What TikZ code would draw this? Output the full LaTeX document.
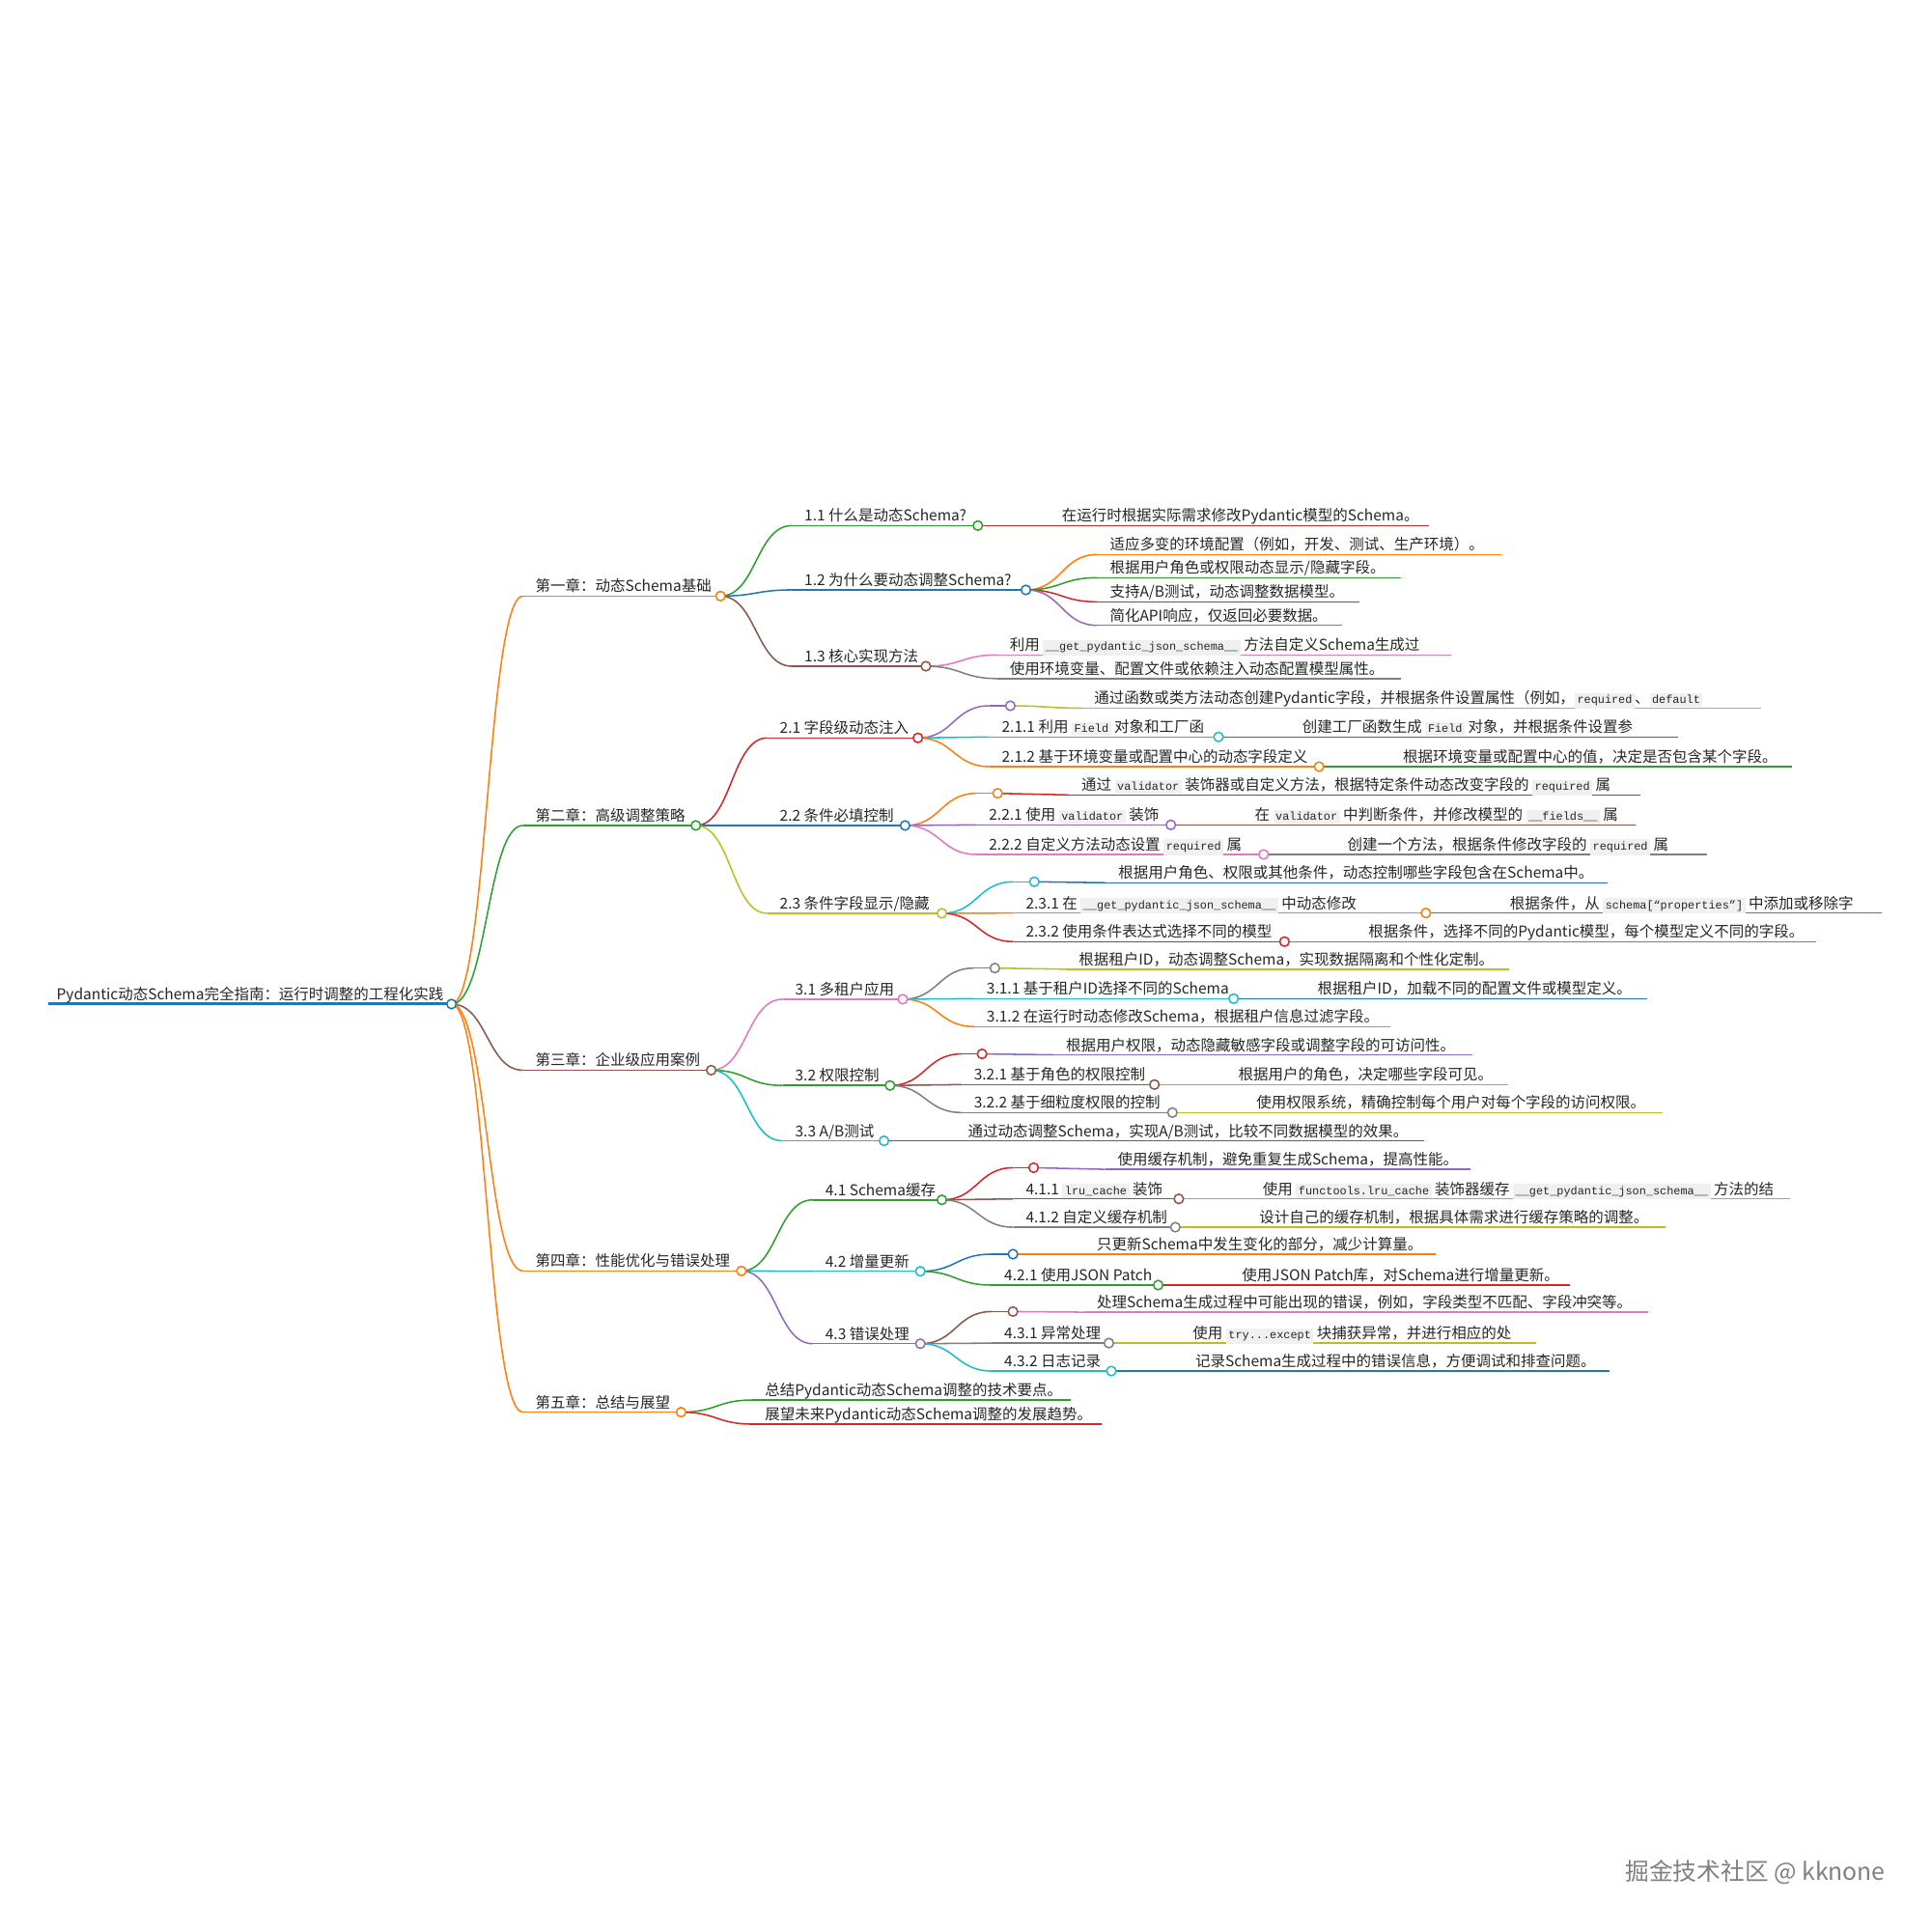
\documentclass[tikz,border=0pt]{standalone}
\usepackage{fontspec}
\setmainfont{Noto Sans CJK SC}
\newfontfamily\codefont{Liberation Mono}
\usetikzlibrary{calc}
\definecolor{cBlue}{HTML}{1F77B4}
\definecolor{cOrange}{HTML}{FF7F0E}
\definecolor{cGreen}{HTML}{2CA02C}
\definecolor{cRed}{HTML}{D62728}
\definecolor{cPurple}{HTML}{9467BD}
\definecolor{cBrown}{HTML}{8C564B}
\definecolor{cPink}{HTML}{E377C2}
\definecolor{cGray}{HTML}{7F7F7F}
\definecolor{cOlive}{HTML}{BCBD22}
\definecolor{cCyan}{HTML}{17BECF}
\definecolor{codebg}{HTML}{F0F0F0}
\newcommand\cd[1]{{\fboxsep=2pt\colorbox{codebg}{\fontsize{9.3}{10}\codefont #1}}}
\tikzset{
  ul/.style={line width=1.2pt},
  lbl/.style={anchor=base west, inner sep=0pt, text=black!85, font=\fontsize{12.15}{14}\selectfont},
  dotc/.style={circle, fill=white, inner sep=0pt, minimum size=7.6pt, line width=1.2pt}
}
% name, colour, y, parent circle x, end x, text
\newcommand\mn[6]{%
  \coordinate (#1-s) at ({#4+58},#3);
  \coordinate (#1-e) at (#5,#3);
  \draw[ul,#2] (#1-s) -- (#1-e);
  \node[lbl] (#1) at ({#4+68},{#3-3.5}) {#6};
}
\newcommand\lk[3]{\draw[ul,#1] let \p1=(#2-e), \p2=(#3-s) in (\p1) .. controls ({(\x1+\x2)/2},\y1) and ({(\x1+\x2)/2},\y2) .. (\p2);}
\newcommand\dt[2]{\node[dotc,draw=#2] (#1-c) at (#1-e) {};}
\begin{document}
\begin{tikzpicture}[x=1pt,y=-1pt]
\fill[white] (0,0) rectangle (1568,1568);
\useasboundingbox (0,0) rectangle (1568,1568);
% root
\coordinate (R-s) at (39,815.3);
\coordinate (R-e) at (366.6,815.3);
\draw[line width=2.4pt,cBlue] (R-s) -- (R-e);
\node[lbl] (R) at (45.8,811.8) {Pydantic动态Schema完全指南：运行时调整的工程化实践};
% chapters
\mn{C1}{cOrange}{484}{366.6}{585}{第一章：动态Schema基础}
\mn{C2}{cGreen}{670.3}{366.6}{565}{第二章：高级调整策略}
\mn{C3}{cBrown}{869}{366.6}{577.5}{第三章：企业级应用案例}
\mn{C4}{cOrange}{1032}{366.6}{602}{第四章：性能优化与错误处理}
\mn{C5}{cOrange}{1146.7}{366.6}{553}{第五章：总结与展望}
% chapter 1
\mn{N11}{cGreen}{426.8}{585}{794}{1.1 什么是动态Schema?}
\mn{L11}{cRed}{426.8}{794}{1160}{在运行时根据实际需求修改Pydantic模型的Schema。}
\mn{N12}{cBlue}{479}{585}{833}{1.2 为什么要动态调整Schema?}
\mn{L12a}{cOrange}{450.3}{833}{1219}{适应多变的环境配置（例如，开发、测试、生产环境）。}
\mn{L12b}{cGreen}{469.1}{833}{1137.6}{根据用户角色或权限动态显示/隐藏字段。}
\mn{L12c}{cRed}{488.7}{833}{1103.5}{支持A/B测试，动态调整数据模型。}
\mn{L12d}{cPurple}{507.8}{833}{1089.5}{简化API响应，仅返回必要数据。}
\mn{N13}{cBrown}{541}{585}{751.8}{1.3 核心实现方法}
\mn{L13a}{cPink}{531.8}{751.8}{1178}{利用 \cd{\_\_get\_pydantic\_json\_schema\_\_} 方法自定义Schema生成过}
\mn{L13b}{cGray}{551}{751.8}{1137.6}{使用环境变量、配置文件或依赖注入动态配置模型属性。}
% chapter 2
\mn{N21}{cRed}{599.2}{565}{745.3}{2.1 字段级动态注入}
\mn{N21a}{cPurple}{573.1}{745.3}{820.4}{}
\mn{L21a}{cOlive}{575}{820.4}{1429.8}{通过函数或类方法动态创建Pydantic字段，并根据条件设置属性（例如，\cd{required}、\cd{default}}
\mn{N211}{cCyan}{598.4}{745.3}{989.4}{2.1.1 利用 \cd{Field} 对象和工厂函}
\mn{L211}{cBlue}{598.4}{989.4}{1362.5}{创建工厂函数生成 \cd{Field} 对象，并根据条件设置参}
\mn{N212}{cOrange}{622.5}{745.3}{1071}{2.1.2 基于环境变量或配置中心的动态字段定义}
\mn{L212}{cGreen}{622.5}{1071}{1455.3}{根据环境变量或配置中心的值，决定是否包含某个字段。}
\mn{N22}{cBlue}{670.3}{565}{734.9}{2.2 条件必填控制}
\mn{N22a}{cOrange}{644.2}{734.9}{810}{}
\mn{L22a}{cRed}{645.5}{810}{1331.8}{通过 \cd{validator} 装饰器或自定义方法，根据特定条件动态改变字段的 \cd{required} 属}
\mn{N221}{cPurple}{669.8}{734.9}{950.7}{2.2.1 使用 \cd{validator} 装饰}
\mn{L221}{cBrown}{669.8}{950.7}{1328.4}{在 \cd{validator} 中判断条件，并修改模型的 \cd{\_\_fields\_\_} 属}
\mn{N222}{cPink}{693.8}{734.9}{1026}{2.2.2 自定义方法动态设置 \cd{required} 属}
\mn{L222}{cGray}{693.8}{1026}{1385.9}{创建一个方法，根据条件修改字段的 \cd{required} 属}
\mn{N23}{cOlive}{741.6}{565}{764.8}{2.3 条件字段显示/隐藏}
\mn{N23a}{cCyan}{716}{764.8}{839.9}{}
\mn{L23a}{cBlue}{716.8}{839.9}{1305.3}{根据用户角色、权限或其他条件，动态控制哪些字段包含在Schema中。}
\mn{N231}{cOrange}{741.4}{764.8}{1157.8}{2.3.1 在 \cd{\_\_get\_pydantic\_json\_schema\_\_} 中动态修改}
\mn{L231}{cGreen}{741.4}{1157.8}{1528}{根据条件，从 \cd{schema[“properties”]} 中添加或移除字}
\mn{N232}{cRed}{764.6}{764.8}{1043}{2.3.2 使用条件表达式选择不同的模型}
\mn{L232}{cPurple}{764.6}{1043}{1474.8}{根据条件，选择不同的Pydantic模型，每个模型定义不同的字段。}
% chapter 3
\mn{N31}{cPink}{811.4}{577.5}{733}{3.1 多租户应用}
\mn{N31a}{cGray}{786.1}{733}{807.8}{}
\mn{L31a}{cOlive}{787}{807.8}{1225}{根据租户ID，动态调整Schema，实现数据隔离和个性化定制。}
\mn{N311}{cCyan}{810.9}{733}{1001.7}{3.1.1 基于租户ID选择不同的Schema}
\mn{L311}{cBlue}{810.9}{1001.7}{1337.8}{根据租户ID，加载不同的配置文件或模型定义。}
\mn{L312}{cOrange}{833.6}{733}{1129}{3.1.2 在运行时动态修改Schema，根据租户信息过滤字段。}
\mn{N32}{cGreen}{881.4}{577.5}{722.7}{3.2 权限控制}
\mn{N32a}{cRed}{855.8}{722.7}{797.4}{}
\mn{L32a}{cPurple}{856.5}{797.4}{1195.7}{根据用户权限，动态隐藏敏感字段或调整字段的可访问性。}
\mn{N321}{cBrown}{880.7}{722.7}{937.4}{3.2.1 基于角色的权限控制}
\mn{L321}{cPink}{880.7}{937.4}{1224.3}{根据用户的角色，决定哪些字段可见。}
\mn{N322}{cGray}{903.4}{722.7}{952}{3.2.2 基于细粒度权限的控制}
\mn{L322}{cOlive}{903.4}{952}{1350}{使用权限系统，精确控制每个用户对每个字段的访问权限。}
\mn{N33}{cCyan}{926.4}{577.5}{717.8}{3.3 A/B测试}
\mn{L33}{cBlue}{926.4}{717.8}{1156}{通过动态调整Schema，实现A/B测试，比较不同数据模型的效果。}
% chapter 4
\mn{N41}{cGreen}{974.3}{602}{764.8}{4.1 Schema缓存}
\mn{N41a}{cRed}{948.2}{764.8}{839.3}{}
\mn{L41a}{cPurple}{949.5}{839.3}{1194.4}{使用缓存机制，避免重复生成Schema，提高性能。}
\mn{N411}{cBrown}{973.5}{764.8}{957.2}{4.1.1 \cd{lru\_cache} 装饰}
\mn{L411}{cPink}{973.5}{957.2}{1453.6}{使用 \cd{functools.lru\_cache} 装饰器缓存 \cd{\_\_get\_pydantic\_json\_schema\_\_} 方法的结}
\mn{N412}{cGray}{996.5}{764.8}{954.4}{4.1.2 自定义缓存机制}
\mn{L412}{cOlive}{996.5}{954.4}{1352.4}{设计自己的缓存机制，根据具体需求进行缓存策略的调整。}
\mn{N42}{cCyan}{1032.3}{602}{747.3}{4.2 增量更新}
\mn{N42a}{cBlue}{1018.4}{747.3}{822.5}{}
\mn{L42a}{cOrange}{1018.4}{822.5}{1165.6}{只更新Schema中发生变化的部分，减少计算量。}
\mn{N421}{cGreen}{1043.5}{747.3}{940.4}{4.2.1 使用JSON Patch}
\mn{L421}{cRed}{1043.5}{940.4}{1274.4}{使用JSON Patch库，对Schema进行增量更新。}
\mn{N43}{cPurple}{1091.1}{602}{747.3}{4.3 错误处理}
\mn{N43a}{cBrown}{1065}{747.3}{822.5}{}
\mn{L43a}{cPink}{1065.5}{822.5}{1338.4}{处理Schema生成过程中可能出现的错误，例如，字段类型不匹配、字段冲突等。}
\mn{N431}{cGray}{1090.6}{747.3}{900.4}{4.3.1 异常处理}
\mn{L431}{cOlive}{1090.6}{900.4}{1247.6}{使用 \cd{try...except} 块捕获异常，并进行相应的处}
\mn{N432}{cCyan}{1113.3}{747.3}{902.4}{4.3.2 日志记录}
\mn{L432}{cBlue}{1113.3}{902.4}{1307.2}{记录Schema生成过程中的错误信息，方便调试和排查问题。}
% chapter 5
\mn{L51}{cGreen}{1136.8}{553}{869.8}{总结Pydantic动态Schema调整的技术要点。}
\mn{L52}{cRed}{1156.4}{553}{894.3}{展望未来Pydantic动态Schema调整的发展趋势。}
% connectors
\lk{cOrange}{R}{C1}\lk{cGreen}{R}{C2}\lk{cBrown}{R}{C3}\lk{cOrange}{R}{C4}\lk{cOrange}{R}{C5}
\lk{cGreen}{C1}{N11}\lk{cBlue}{C1}{N12}\lk{cBrown}{C1}{N13}
\lk{cRed}{N11}{L11}
\lk{cOrange}{N12}{L12a}\lk{cGreen}{N12}{L12b}\lk{cRed}{N12}{L12c}\lk{cPurple}{N12}{L12d}
\lk{cPink}{N13}{L13a}\lk{cGray}{N13}{L13b}
\lk{cRed}{C2}{N21}\lk{cBlue}{C2}{N22}\lk{cOlive}{C2}{N23}
\lk{cPurple}{N21}{N21a}\lk{cCyan}{N21}{N211}\lk{cOrange}{N21}{N212}
\lk{cOlive}{N21a}{L21a}\lk{cBlue}{N211}{L211}\lk{cGreen}{N212}{L212}
\lk{cOrange}{N22}{N22a}\lk{cPurple}{N22}{N221}\lk{cPink}{N22}{N222}
\lk{cRed}{N22a}{L22a}\lk{cBrown}{N221}{L221}\lk{cGray}{N222}{L222}
\lk{cCyan}{N23}{N23a}\lk{cOrange}{N23}{N231}\lk{cRed}{N23}{N232}
\lk{cBlue}{N23a}{L23a}\lk{cGreen}{N231}{L231}\lk{cPurple}{N232}{L232}
\lk{cPink}{C3}{N31}\lk{cGreen}{C3}{N32}\lk{cCyan}{C3}{N33}
\lk{cGray}{N31}{N31a}\lk{cCyan}{N31}{N311}\lk{cOrange}{N31}{L312}
\lk{cOlive}{N31a}{L31a}\lk{cBlue}{N311}{L311}
\lk{cRed}{N32}{N32a}\lk{cBrown}{N32}{N321}\lk{cGray}{N32}{N322}
\lk{cPurple}{N32a}{L32a}\lk{cPink}{N321}{L321}\lk{cOlive}{N322}{L322}
\lk{cBlue}{N33}{L33}
\lk{cGreen}{C4}{N41}\lk{cCyan}{C4}{N42}\lk{cPurple}{C4}{N43}
\lk{cRed}{N41}{N41a}\lk{cBrown}{N41}{N411}\lk{cGray}{N41}{N412}
\lk{cPurple}{N41a}{L41a}\lk{cPink}{N411}{L411}\lk{cOlive}{N412}{L412}
\lk{cBlue}{N42}{N42a}\lk{cGreen}{N42}{N421}
\lk{cOrange}{N42a}{L42a}\lk{cRed}{N421}{L421}
\lk{cBrown}{N43}{N43a}\lk{cGray}{N43}{N431}\lk{cCyan}{N43}{N432}
\lk{cPink}{N43a}{L43a}\lk{cOlive}{N431}{L431}\lk{cBlue}{N432}{L432}
\lk{cGreen}{C5}{L51}\lk{cRed}{C5}{L52}
% circles
\dt{R}{cBlue}
\dt{C1}{cOrange}\dt{C2}{cGreen}\dt{C3}{cBrown}\dt{C4}{cOrange}\dt{C5}{cOrange}
\dt{N11}{cGreen}\dt{N12}{cBlue}\dt{N13}{cBrown}
\dt{N21}{cRed}\dt{N21a}{cPurple}\dt{N211}{cCyan}\dt{N212}{cOrange}
\dt{N22}{cBlue}\dt{N22a}{cOrange}\dt{N221}{cPurple}\dt{N222}{cPink}
\dt{N23}{cOlive}\dt{N23a}{cCyan}\dt{N231}{cOrange}\dt{N232}{cRed}
\dt{N31}{cPink}\dt{N31a}{cGray}\dt{N311}{cCyan}
\dt{N32}{cGreen}\dt{N32a}{cRed}\dt{N321}{cBrown}\dt{N322}{cGray}
\dt{N33}{cCyan}
\dt{N41}{cGreen}\dt{N41a}{cRed}\dt{N411}{cBrown}\dt{N412}{cGray}
\dt{N42}{cCyan}\dt{N42a}{cBlue}\dt{N421}{cGreen}
\dt{N43}{cPurple}\dt{N43a}{cBrown}\dt{N431}{cGray}\dt{N432}{cCyan}
% watermark
\node[anchor=base east, inner sep=0pt, text=black!50, font=\fontsize{19.4}{22}\selectfont] (wm) at (1531,1527) {掘金技术社区 @ kknone};
\end{tikzpicture}
\end{document}
